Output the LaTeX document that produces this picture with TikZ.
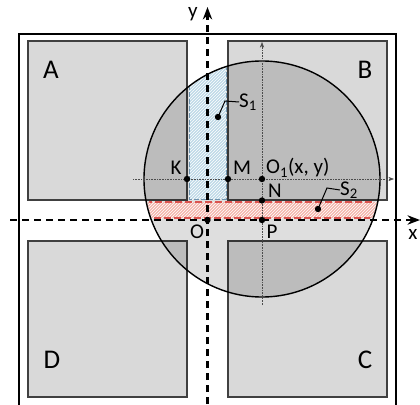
\documentclass[tikz,border=0pt]{standalone}
\usepackage{fontspec}
\setmainfont{Carlito}
\usepackage{xcolor}
\usepackage{tikz}
\usetikzlibrary{arrows.meta,positioning,calc,patterns}

\definecolor{blockgray}{HTML}{D9D9D9}
\definecolor{edgegray}{HTML}{404040}
\definecolor{sblue}{HTML}{BFD9E8}
\definecolor{sblueedge}{HTML}{6F93AD}
\definecolor{sred}{HTML}{F4B6AE}
\definecolor{srededge}{HTML}{D9534F}

\tikzset{
  block/.style={draw=edgegray, fill=blockgray, line width=1.2pt, inner sep=0pt},
  biglabel/.style={font=\fontsize{27}{27}\selectfont, inner sep=0pt},
  ptlabel/.style={font=\fontsize{21}{21}\selectfont, inner sep=0pt},
  axis/.style={->, line width=2.1pt, dash pattern=on 7pt off 5pt},
  guide/.style={->, densely dotted, black!70, line width=0.6pt},
}

\begin{document}
\begin{tikzpicture}[x=1pt, y=-1pt, >=Stealth]
  \useasboundingbox (0,0) rectangle (420,404);
  \clip (0,0) rectangle (420,404);

  % Frame
  \draw[line width=1.4pt] (19,34) rectangle (396,430);

  % Blocks
  \node[block, minimum width=159pt, minimum height=159pt] (blockA) at (107.5,120.5) {};
  \node[block, minimum width=159pt, minimum height=159pt] (blockB) at (307.5,120.5) {};
  \node[block, minimum width=159pt, minimum height=156pt] (blockD) at (107.5,319) {};
  \node[block, minimum width=159pt, minimum height=156pt] (blockC) at (307.5,319) {};
  \node[biglabel] (labA) at (51,70) {A};
  \node[biglabel] (labB) at (365,70) {B};
  \node[biglabel] (labC) at (365,360) {C};
  \node[biglabel] (labD) at (52,360) {D};

  % Points
  \coordinate (O1) at (262,179);
  \coordinate (K) at (187,179);
  \coordinate (M) at (228,179);
  \coordinate (N) at (262,200.5);
  \coordinate (P) at (262,220);
  \coordinate (O) at (207.5,220);

  % Circle
  \fill[black, opacity=0.13] (O1) circle (118);

  % Areas S1, S2
  \begin{scope}
    \clip (O1) circle (117);
    \fill[sblue] (189,50) rectangle (226,199);
    \fill[pattern=north east lines, pattern color=white] (189,50) rectangle (226,199);
    \draw[sblueedge, line width=0.8pt, dash pattern=on 5pt off 2pt] (189,50) rectangle (226,199);
    \fill[sred] (130,202) rectangle (400,218);
    \fill[pattern=north east lines, pattern color=white] (130,202) rectangle (400,218);
  \end{scope}
  \begin{scope}
    \clip (O1) circle (115);
    \draw[srededge, line width=1.2pt, dash pattern=on 7pt off 3pt] (130,202) rectangle (400,218);
  \end{scope}
  \draw[line width=1.4pt] (O1) circle (118);

  % Guides through O1
  \coordinate (gl) at (133,179);
  \coordinate (gr) at (394,179);
  \coordinate (gb) at (262,305);
  \coordinate (gt) at (262,42);
  \draw[guide] (gl) -- (gr);
  \draw[guide] (gb) -- (gt);

  % Axes
  \coordinate (xl) at (10,220);
  \coordinate (xr) at (420,220);
  \coordinate (yb) at (207.5,404);
  \coordinate (yt) at (207.5,7);
  \draw[axis] (xl) -- (xr);
  \draw[axis] (yb) -- (yt);
  \node[ptlabel] (labx) at (413,234) {x};
  \node[ptlabel] (laby) at (193,14) {y};

  % Dots and labels
  \foreach \p in {K,M,O1,N,P,O}
    \fill (\p) circle (3.2);
  \node[ptlabel] (labK) at (176,168) {K};
  \node[ptlabel] (labM) at (242,168) {M};
  \node[ptlabel, anchor=west] (labO1) at (266,168) {O\textsubscript{1}(x, y)};
  \node[ptlabel] (labN) at (275,191) {N};
  \node[ptlabel] (labP) at (272,232) {P};
  \node[ptlabel] (labO) at (197,232) {O};

  % Leaders to S1, S2
  \coordinate (S1dot) at (218,117);
  \coordinate (S2dot) at (318,209);
  \fill (S1dot) circle (3.2);
  \fill (S2dot) circle (3.2);
  \node[ptlabel, anchor=west] (labS1) at (239,102) {S\textsubscript{1}};
  \node[ptlabel, anchor=west] (labS2) at (340,190) {S\textsubscript{2}};
  \draw[line width=1pt] (S1dot) -- (225,101) -- (labS1.west);
  \draw[line width=1pt] (S2dot) -- (327,188) -- (labS2.west);
\end{tikzpicture}
\end{document}
